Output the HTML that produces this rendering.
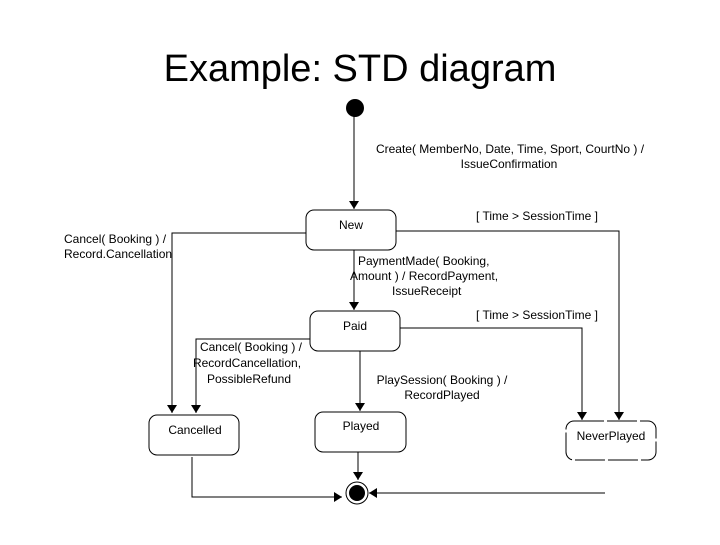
<!DOCTYPE html>
<html><head><style>
body{margin:0;width:720px;height:540px;background:#fff;overflow:hidden}
svg text{font-family:"Liberation Sans",sans-serif;font-size:12px;fill:#000}
</style></head><body>
<svg width="720" height="540" viewBox="0 0 720 540">
<defs><marker id="a" markerWidth="8" markerHeight="10" refX="8" refY="5" orient="auto" markerUnits="userSpaceOnUse"><path d="M0,0 L8,5 L0,10 z" fill="#000"/></marker></defs>
<text x="360" y="81" text-anchor="middle" style="font-size:38px">Example: STD diagram</text>
<g stroke="#000" stroke-width="1" fill="none">
<line x1="354" y1="110" x2="354" y2="209" marker-end="url(#a)"/>
<rect x="306" y="210" width="90" height="40" rx="8"/>
<polyline points="396,231 619,231 619,420" marker-end="url(#a)"/>
<polyline points="306,233 172,233 172,413" marker-end="url(#a)"/>
<line x1="354" y1="250" x2="354" y2="310" marker-end="url(#a)"/>
<rect x="310" y="311" width="90" height="40" rx="8"/>
<polyline points="400,328 582,328 582,420" marker-end="url(#a)"/>
<polyline points="310,339 196,339 196,413" marker-end="url(#a)"/>
<line x1="360" y1="351" x2="360" y2="411" marker-end="url(#a)"/>
<rect x="149" y="415" width="90" height="40" rx="8"/>
<rect x="315" y="412" width="91" height="40" rx="8"/>
<rect x="566" y="421" width="90" height="39" rx="8" stroke-dasharray="30,3"/>
<line x1="358" y1="452" x2="358" y2="480" marker-end="url(#a)"/>
<polyline points="192,457 192,497 342,497" marker-end="url(#a)"/>
<line x1="605" y1="493" x2="369" y2="493" marker-end="url(#a)"/>
<circle cx="357" cy="493" r="11"/>
</g>
<circle cx="355" cy="108" r="9" fill="#000"/>
<circle cx="357" cy="493" r="8" fill="#000"/>
<text x="351" y="229" text-anchor="middle">New</text>
<text x="355" y="330" text-anchor="middle">Paid</text>
<text x="195" y="434" text-anchor="middle">Cancelled</text>
<text x="361" y="430" text-anchor="middle">Played</text>
<text x="611" y="440" text-anchor="middle">NeverPlayed</text>
<text x="510" y="153" text-anchor="middle">Create( MemberNo, Date, Time, Sport, CourtNo ) /</text>
<text x="509" y="168" text-anchor="middle">IssueConfirmation</text>
<text x="537" y="220" text-anchor="middle">[ Time &gt; SessionTime ]</text>
<text x="537" y="319" text-anchor="middle">[ Time &gt; SessionTime ]</text>
<text x="64" y="243">Cancel( Booking ) /</text>
<text x="64" y="258">Record.Cancellation</text>
<text x="358" y="265">PaymentMade( Booking,</text>
<text x="350" y="280">Amount ) / RecordPayment,</text>
<text x="392" y="295">IssueReceipt</text>
<text x="251" y="351" text-anchor="middle">Cancel( Booking ) /</text>
<text x="247" y="367" text-anchor="middle">RecordCancellation,</text>
<text x="249" y="383" text-anchor="middle">PossibleRefund</text>
<text x="442" y="384" text-anchor="middle">PlaySession( Booking ) /</text>
<text x="442" y="399" text-anchor="middle">RecordPlayed</text>
</svg>
</body></html>
